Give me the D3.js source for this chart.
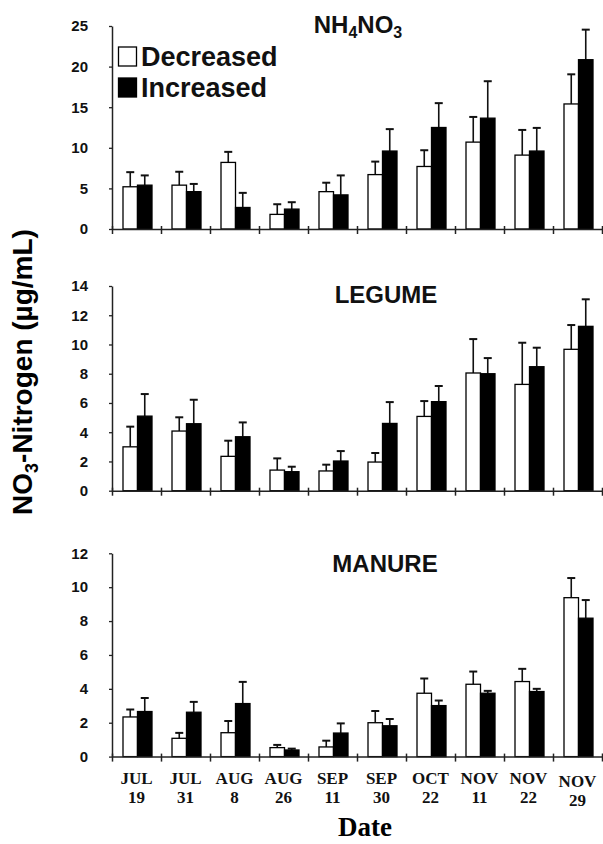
<!DOCTYPE html>
<html>
<head>
<meta charset="utf-8">
<style>
    body { margin: 0; background: #fff; }
    svg { display: block; }
    .tick text { font-family: "Liberation Sans", Arial, sans-serif; font-weight: bold; font-size: 15px; fill: #111; }
    .title { font-family: "Liberation Sans", Arial, sans-serif; font-weight: bold; font-size: 24px; fill: #111; }
    .legend { font-family: "Liberation Sans", Arial, sans-serif; font-weight: bold; font-size: 27px; fill: #111; }
    .date { font-family: "Liberation Serif", "Times New Roman", serif; font-weight: bold; font-size: 17px; fill: #111; }
</style>
</head>
<body>
<svg width="603" height="844"></svg>

<script src="https://cdnjs.cloudflare.com/ajax/libs/d3/7.8.5/d3.min.js"></script>
<script>
    // sampling dates (two lines each)
    let dateMonths = ["JUL", "JUL", "AUG", "AUG", "SEP", "SEP", "OCT", "NOV", "NOV", "NOV"]
    let dateDays = ["19", "31", "8", "26", "11", "30", "22", "11", "22", "29"]

    // NH4NO3 panel
    let nh4Dec = [5.2, 5.4, 8.2, 1.8, 4.6, 6.7, 7.7, 10.7, 9.1, 15.4]
    let nh4DecErr = [1.8, 1.65, 1.3, 1.25, 1.1, 1.6, 2.0, 3.1, 3.1, 3.65]
    let nh4Inc = [5.4, 4.6, 2.65, 2.45, 4.2, 9.6, 12.5, 13.65, 9.6, 20.85]
    let nh4IncErr = [1.2, 0.95, 1.8, 0.85, 2.4, 2.7, 3.0, 4.55, 2.85, 3.7]

    // LEGUME panel
    let legDec = [3.0, 4.08, 2.35, 1.41, 1.35, 1.96, 5.08, 8.05, 7.27, 9.67]
    let legDecErr = [1.38, 0.94, 1.07, 0.8, 0.43, 0.62, 1.05, 2.32, 2.85, 1.66]
    let legInc = [5.1, 4.58, 3.69, 1.3, 2.03, 4.6, 6.09, 8.0, 8.48, 11.24]
    let legIncErr = [1.51, 1.64, 0.98, 0.34, 0.68, 1.46, 1.07, 1.07, 1.3, 1.85]

    // MANURE panel
    let manDec = [2.34, 1.08, 1.41, 0.53, 0.57, 2.0, 3.74, 4.27, 4.43, 9.38]
    let manDecErr = [0.44, 0.32, 0.69, 0.16, 0.37, 0.69, 0.87, 0.75, 0.75, 1.16]
    let manInc = [2.66, 2.62, 3.13, 0.39, 1.39, 1.82, 3.01, 3.74, 3.84, 8.17]
    let manIncErr = [0.8, 0.61, 1.28, 0.08, 0.57, 0.4, 0.3, 0.14, 0.16, 1.07]

    let yTicksTop = [0, 5, 10, 15, 20, 25]
    let yTicksLeg = [0, 2, 4, 6, 8, 10, 12, 14]
    let yTicksMan = [0, 2, 4, 6, 8, 10, 12]

    let seriesKeys = ["Decreased", "Increased"]
    let fills = { Decreased: "#fff", Increased: "#000" }

    let svg = d3.select("svg")
    let left = 112, right = 602

    let x0 = d3.scaleBand().domain(d3.range(10)).range([left, right])
    let x1 = d3.scaleBand().domain(seriesKeys).range([11, 40])
    let xb = d3.scaleLinear().domain([0, 10]).range([left, right])

    let panels = [
        { dec: nh4Dec, decErr: nh4DecErr, inc: nh4Inc, incErr: nh4IncErr, max: 25, ticks: yTicksTop, y0: 229, y1: 26 },
        { dec: legDec, decErr: legDecErr, inc: legInc, incErr: legIncErr, max: 14, ticks: yTicksLeg, y0: 490.7, y1: 286 },
        { dec: manDec, decErr: manDecErr, inc: manInc, incErr: manIncErr, max: 12, ticks: yTicksMan, y0: 756.6, y1: 553.3 }
    ]

    panels.forEach(function (p, pi) {
        let y = d3.scaleLinear().domain([0, p.max]).range([p.y0, p.y1])
        let g = svg.append("g")

        let rows = d3.range(10).flatMap(i => [
            { i: i, key: "Decreased", v: p.dec[i], e: p.decErr[i] },
            { i: i, key: "Increased", v: p.inc[i], e: p.incErr[i] }
        ])

        // error bars (upper only)
        let eb = g.append("g").attr("stroke", "#111").attr("stroke-width", 1.6)
        eb.selectAll(".stem").data(rows).join("line")
            .attr("x1", d => x0(d.i) + x1(d.key) + x1.bandwidth() / 2)
            .attr("x2", d => x0(d.i) + x1(d.key) + x1.bandwidth() / 2)
            .attr("y1", d => y(d.v))
            .attr("y2", d => y(d.v + d.e))
        eb.selectAll(".cap").data(rows).join("line")
            .attr("x1", d => x0(d.i) + x1(d.key) + x1.bandwidth() / 2 - 4)
            .attr("x2", d => x0(d.i) + x1(d.key) + x1.bandwidth() / 2 + 4)
            .attr("y1", d => y(d.v + d.e))
            .attr("y2", d => y(d.v + d.e))
            .attr("stroke-width", 2)

        g.append("g").selectAll("rect").data(rows).join("rect")
            .attr("x", d => x0(d.i) + x1(d.key))
            .attr("y", d => y(d.v))
            .attr("width", x1.bandwidth())
            .attr("height", d => y(0) - y(d.v))
            .attr("fill", d => fills[d.key])
            .attr("stroke", "#000")
            .attr("stroke-width", 1.3)

        // y axis
        let ya = g.append("g")
            .attr("transform", `translate(${left},0)`)
            .call(d3.axisLeft(y).tickValues(p.ticks).tickSize(3).tickSizeOuter(0).tickPadding(21))
        ya.select(".domain").attr("stroke", "#222").attr("stroke-width", 1.5)
        ya.selectAll(".tick line").attr("stroke", "#222").attr("stroke-width", 1.3)

        // x axis with boundary ticks
        let xa = g.append("g")
            .attr("transform", `translate(0,${p.y0})`)
            .call(d3.axisBottom(xb).tickValues(d3.range(11)).tickSize(5).tickSizeOuter(0).tickFormat(""))
        xa.select(".domain").attr("stroke", "#222").attr("stroke-width", 1.5)
        xa.selectAll(".tick line").attr("y1", -3).attr("stroke", "#222").attr("stroke-width", 1.5)
    })

    // panel titles
    let t1 = svg.append("text").attr("class", "title").attr("x", 358).attr("y", 33).attr("text-anchor", "middle")
    t1.append("tspan").text("NH")
    t1.append("tspan").attr("font-size", 16).attr("dy", 5).text("4")
    t1.append("tspan").attr("dy", -5).text("NO")
    t1.append("tspan").attr("font-size", 16).attr("dy", 5).text("3")

    svg.append("text").attr("class", "title").attr("x", 386).attr("y", 303).attr("text-anchor", "middle").text("LEGUME")
    svg.append("text").attr("class", "title").attr("x", 385).attr("y", 572).attr("text-anchor", "middle").text("MANURE")

    // legend
    let lg = svg.append("g")
    seriesKeys.forEach(function (k, i) {
        lg.append("rect")
            .attr("x", 118.5).attr("y", 47 + i * 31)
            .attr("width", 18).attr("height", 19)
            .attr("fill", fills[k]).attr("stroke", "#000").attr("stroke-width", 1.3)
        lg.append("text").attr("class", "legend")
            .attr("x", 141).attr("y", 65.5 + i * 31)
            .text(k)
    })

    // date labels under the bottom panel
    let dl = svg.append("g").selectAll("text").data(d3.range(10)).join("text")
        .attr("class", "date")
        .attr("text-anchor", "middle")
        .attr("x", i => x0(i) + x0.bandwidth() / 2)
        .attr("y", i => i === 9 ? 786.7 : 784.3)
    dl.append("tspan").text(i => dateMonths[i])
    dl.append("tspan").attr("x", i => x0(i) + x0.bandwidth() / 2).attr("dy", 19).text(i => dateDays[i])

    svg.append("text")
        .attr("x", 365).attr("y", 836)
        .attr("text-anchor", "middle")
        .style("font-family", '"Liberation Serif", "Times New Roman", serif')
        .style("font-weight", "bold").style("font-size", "27px")
        .text("Date")

    // y title
    let yt = svg.append("text")
        .attr("transform", "translate(32,372) rotate(-90)")
        .attr("text-anchor", "middle")
        .style("font-family", '"Liberation Sans", Arial, sans-serif')
        .style("font-weight", "bold").style("font-size", "28px")
    yt.append("tspan").text("NO")
    yt.append("tspan").attr("font-size", 18).attr("dy", 6).text("3")
    yt.append("tspan").attr("dy", -6).text("-Nitrogen (\u00b5g/mL)")
</script>
</body>
</html>
